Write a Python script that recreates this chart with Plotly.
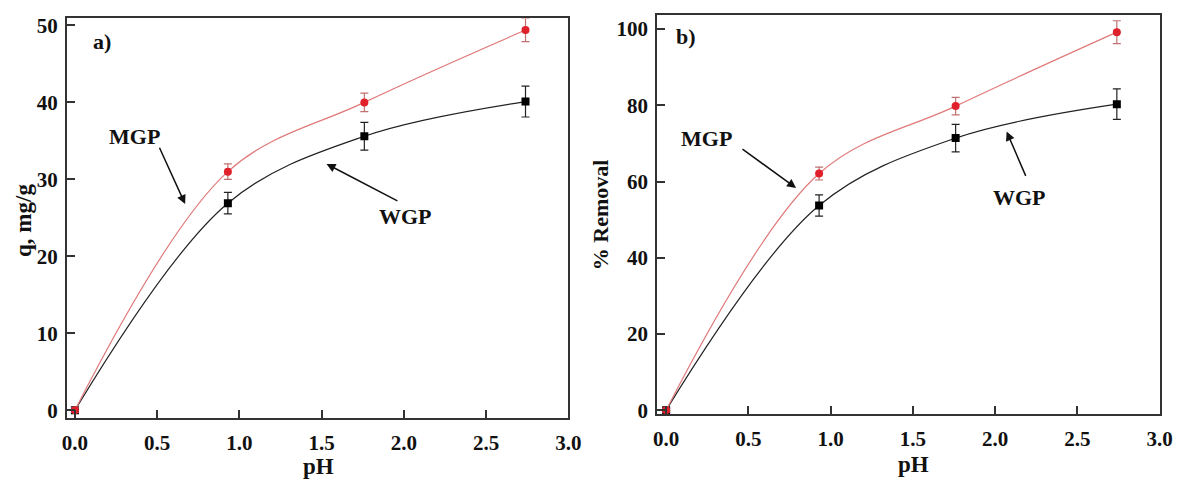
import plotly.graph_objects as go

ph = [0.0, 0.93, 1.76, 2.74]
q_mgp = [0.0, 31.0, 40.0, 49.4]
q_mgp_err = [0.3, 1.0, 1.2, 1.5]
q_wgp = [0.0, 26.9, 35.6, 40.1]
q_wgp_err = [0.3, 1.4, 1.8, 2.0]
rem_mgp = [0.0, 62.1, 79.8, 99.2]
rem_mgp_err = [0.5, 1.7, 2.3, 3.0]
rem_wgp = [0.0, 53.7, 71.4, 80.3]
rem_wgp_err = [0.5, 2.8, 3.6, 4.0]

x_ticks = [0.0, 0.5, 1.0, 1.5, 2.0, 2.5, 3.0]
x_tick_labels = ["0.0", "0.5", "1.0", "1.5", "2.0", "2.5", "3.0"]
q_ticks = [0, 10, 20, 30, 40, 50]
rem_ticks = [0, 20, 40, 60, 80, 100]

RED_LINE = "#e07a7a"
RED_MK = "#e0202a"
RED_ERR = "#c07070"
BLK = "#222222"
FONT = "Liberation Serif"

fig = go.Figure()

def add_series(x, y, err, xa, ya, line_col, mk_col, err_col, symbol):
    fig.add_trace(go.Scatter(
        x=x, y=y, xaxis=xa, yaxis=ya, mode="lines+markers",
        line=dict(color=line_col, width=1.2, shape="spline", smoothing=1.0),
        marker=dict(color=mk_col, size=8, symbol=symbol),
        error_y=dict(type="data", array=err, color=err_col, thickness=1.2, width=4),
        showlegend=False))

add_series(ph, q_wgp, q_wgp_err, "x", "y", BLK, "#000000", BLK, "square")
add_series(ph, q_mgp, q_mgp_err, "x", "y", RED_LINE, RED_MK, RED_ERR, "circle")
add_series(ph, rem_wgp, rem_wgp_err, "x2", "y2", BLK, "#000000", BLK, "square")
add_series(ph, rem_mgp, rem_mgp_err, "x2", "y2", RED_LINE, RED_MK, RED_ERR, "circle")

axis_common = dict(showgrid=False, zeroline=False, showline=True, mirror=True,
                   linecolor="#333333", linewidth=2, ticks="inside", ticklen=8,
                   tickwidth=1.5, tickcolor="#333333",
                   tickfont=dict(family=FONT, size=21, color="#111111"))

def bold(labels):
    return ["<b>%s</b>" % s for s in labels]

xt = bold(x_tick_labels)

fig.update_layout(
    width=1189, height=495,
    margin=dict(l=0, r=0, t=0, b=0),
    paper_bgcolor="white", plot_bgcolor="white",
    xaxis=dict(domain=[0.053, 0.481], range=[-0.048, 3.0], tickvals=x_ticks, ticktext=xt,
               anchor="y", ticklabelstandoff=5, **axis_common),
    yaxis=dict(domain=[0.1434, 0.972], range=[-1.0, 50.9], tickvals=q_ticks,
               ticktext=bold([str(v) for v in q_ticks]), anchor="x", ticklabelstandoff=3, **axis_common),
    xaxis2=dict(domain=[0.557, 0.986], range=[-0.054, 3.0], tickvals=x_ticks, ticktext=xt,
                anchor="y2", ticklabelstandoff=5, **axis_common),
    yaxis2=dict(domain=[0.1515, 0.980], range=[-1.0, 103.8], tickvals=rem_ticks,
                ticktext=bold([str(v) for v in rem_ticks]), anchor="x2", ticklabelstandoff=3, **axis_common),
)

tf = dict(family=FONT, size=22, color="#111111")

def ptext(text, px, py, angle=0, size=22):
    return dict(text=text, x=px / 1189, xref="paper", y=1 - py / 495, yref="paper",
                xanchor="center", yanchor="middle", showarrow=False, textangle=angle,
                font=dict(family=FONT, size=size, color="#111111"))

def dtext(text, x, y, xr, yr):
    return dict(text=text, x=x, y=y, xref=xr, yref=yr, xanchor="center", yanchor="middle",
                showarrow=False, font=tf)

def arrow(x, y, ax, ay, xr, yr):
    return dict(text="", x=x, y=y, ax=ax, ay=ay, xref=xr, yref=yr, axref=xr, ayref=yr,
                showarrow=True, arrowhead=2, arrowsize=1.2, arrowwidth=1.5, arrowcolor="#111111")

ann = [
    ptext("<b>a)</b>", 98, 37),
    ptext("<b>b)</b>", 691, 32),
    ptext("<b>q, mg/g</b>", 18, 221, -90, 23),
    ptext("<b>% Removal</b>", 605, 215, -90, 22),
    ptext("<b>pH</b>", 318, 474, 0, 23),
    ptext("<b>pH</b>", 922, 472, 0, 23),
    arrow(0.67, 26.8, 0.51, 34.3, "x", "y"),
    dtext("<b>MGP</b>", 0.36, 35.6, "x", "y"),
    arrow(1.53, 32.0, 1.97, 27.1, "x", "y"),
    dtext("<b>WGP</b>", 2.01, 25.2, "x", "y"),
    arrow(0.79, 58.3, 0.455, 68.8, "x2", "y2"),
    dtext("<b>MGP</b>", 0.245, 71.4, "x2", "y2"),
    arrow(2.07, 73.1, 2.19, 61.1, "x2", "y2"),
    dtext("<b>WGP</b>", 2.15, 55.8, "x2", "y2"),
]
fig.update_layout(annotations=ann)

fig.write_html("out.html", config={"displayModeBar": False},
               post_script="document.body.style.margin='0';document.body.style.overflow='hidden';")
